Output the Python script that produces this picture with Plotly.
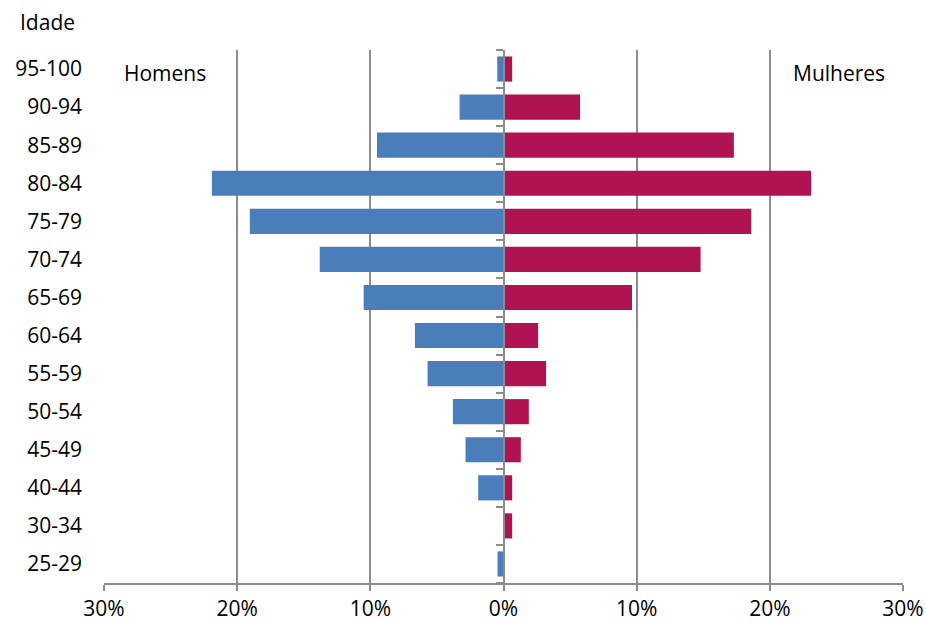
import plotly.graph_objects as go

ages = ["25-29", "30-34", "40-44", "45-49", "50-54", "55-59", "60-64",
        "65-69", "70-74", "75-79", "80-84", "85-89", "90-94", "95-100"]
homens = [0.45, 0.0, 1.9, 2.85, 3.8, 5.7, 6.65, 10.5, 13.8, 19.05, 21.9, 9.5, 3.3, 0.47]
mulheres = [0.0, 0.65, 0.65, 1.3, 1.9, 3.2, 2.6, 9.65, 14.8, 18.6, 23.1, 17.3, 5.75, 0.65]
xticks = [-30, -20, -10, 0, 10, 20, 30]
xticktext = ["30%", "20%", "10%", "0%", "10%", "20%", "30%"]

FONT = "Open Sans"
GRID = "#8c8c8c"
FS = 21

fig = go.Figure()
fig.add_trace(go.Bar(y=ages, x=[-v for v in homens], orientation="h", name="Homens",
                     marker=dict(color="#4a7ebb", line=dict(width=0)), width=0.66))
fig.add_trace(go.Bar(y=ages, x=mulheres, orientation="h", name="Mulheres",
                     marker=dict(color="#b01352", line=dict(width=0)), width=0.66))
# invisible trace to carry the central axis with boundary ticks
fig.add_trace(go.Scatter(y=ages, x=[0] * len(ages), yaxis="y2", mode="markers",
                         marker=dict(opacity=0), hoverinfo="skip", showlegend=False))

fig.update_layout(
    width=926, height=622,
    margin=dict(l=104, r=23, t=50, b=39, autoexpand=False),
    plot_bgcolor="white", paper_bgcolor="white",
    barmode="relative", showlegend=False,
    font=dict(family=FONT, size=FS, color="black"),
    xaxis=dict(range=[-30, 30], tickvals=xticks, ticktext=xticktext,
               showgrid=True, gridcolor=GRID, gridwidth=1.5, zeroline=False,
               showline=True, linecolor=GRID, linewidth=2, automargin=False,
               ticks="outside", ticklen=6, tickcolor=GRID, tickwidth=1.5,
               tickfont=dict(family=FONT, size=FS), fixedrange=True),
    yaxis=dict(type="category", categoryarray=ages, range=[-0.5, 13.5],
               showgrid=False, zeroline=False, showline=False, ticks="",
               ticklabelstandoff=21, automargin=False,
               tickfont=dict(family=FONT, size=FS)),
    yaxis2=dict(type="category", categoryarray=ages, range=[-0.5, 13.5],
                overlaying="y", anchor="free", position=0.5, side="left",
                showline=True, linecolor=GRID, linewidth=2, automargin=False,
                ticks="outside", ticklen=7, tickcolor=GRID, tickwidth=2,
                tickson="boundaries", showticklabels=False, showgrid=False,
                zeroline=False),
    annotations=[
        dict(text="Idade", xref="paper", yref="paper", x=-0.108, y=1.0, yshift=12,
             xanchor="left", yanchor="bottom", showarrow=False,
             font=dict(family=FONT, size=FS)),
        dict(text="Homens", xref="paper", yref="y", x=0.022, y="95-100",
             xanchor="left", yanchor="middle", showarrow=False, yshift=-4,
             font=dict(family=FONT, size=FS)),
        dict(text="Mulheres", xref="paper", yref="y", x=0.98, y="95-100",
             xanchor="right", yanchor="middle", showarrow=False, yshift=-4,
             font=dict(family=FONT, size=FS)),
    ],
)

fig.write_html("out.html")
